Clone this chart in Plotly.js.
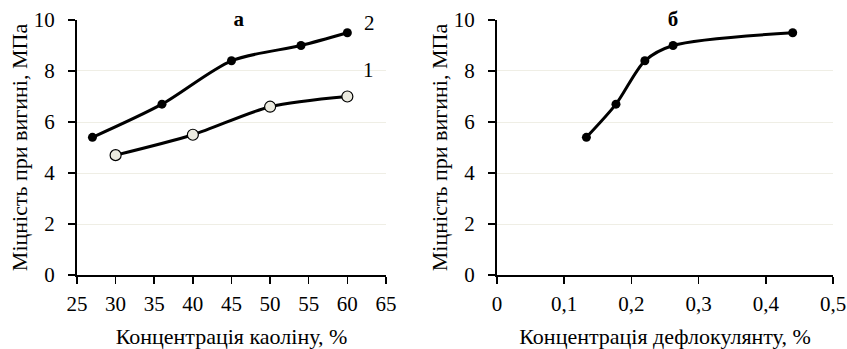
<!DOCTYPE html>
<html>
<head>
<meta charset="utf-8">
<script src="https://cdn.plot.ly/plotly-3.0.1.min.js"></script>
<style>html,body{margin:0;padding:0;background:#fff;}#chart{width:847px;height:349px;}</style>
</head>
<body>
<div id="chart"></div>
<script>
// Panel а: strength vs kaolin concentration
const kaolinX2 = [27, 36, 45, 54, 60];
const strength2 = [5.4, 6.7, 8.4, 9.0, 9.5];
const kaolinX1 = [30, 40, 50, 60];
const strength1 = [4.7, 5.5, 6.6, 7.0];
// Panel б: strength vs deflocculant concentration
const deflocX = [0.133, 0.177, 0.22, 0.262, 0.44];
const strengthB = [5.4, 6.7, 8.4, 9.0, 9.5];

const xTicksA = [25, 30, 35, 40, 45, 50, 55, 60, 65];
const xTicksB = [0, 0.1, 0.2, 0.3, 0.4, 0.5];
const xTickTextB = ['0', '0,1', '0,2', '0,3', '0,4', '0,5'];
const yTicks = [0, 2, 4, 6, 8, 10];

const FONT = '"Liberation Serif", "Times New Roman", serif';
const lineStyle = {color: '#000', width: 3, shape: 'spline', smoothing: 0.8};

const traces = [
  {x: kaolinX2, y: strength2, xaxis: 'x', yaxis: 'y', mode: 'lines+markers', line: lineStyle,
   marker: {size: 9, color: '#000'}, cliponaxis: false},
  {x: kaolinX1, y: strength1, xaxis: 'x', yaxis: 'y', mode: 'lines+markers', line: lineStyle,
   marker: {size: 11, color: '#ecebe0', line: {color: '#000', width: 1.2}}, cliponaxis: false},
  {x: deflocX, y: strengthB, xaxis: 'x2', yaxis: 'y2', mode: 'lines+markers', line: lineStyle,
   marker: {size: 9, color: '#000'}, cliponaxis: false}
];

const axisCommon = {
  showline: true, linecolor: '#000', linewidth: 2,
  ticks: 'outside', ticklen: 7, tickwidth: 1.5, tickcolor: '#000',
  tickfont: {family: FONT, size: 21, color: '#000'},
  zeroline: false
};
const titleFont = {family: FONT, size: 22, color: '#000'};

const layout = {
  width: 847, height: 349,
  margin: {l: 0, r: 0, t: 0, b: 0},
  paper_bgcolor: '#fff', plot_bgcolor: '#fff',
  showlegend: false,
  font: {family: FONT, color: '#000'},
  xaxis: Object.assign({}, axisCommon, {
    domain: [0.0909, 0.4557], range: [25, 65], tickvals: xTicksA, showgrid: false,
    anchor: 'y', ticklabelstandoff: 2,
    title: {text: 'Концентрація каоліну, %', font: titleFont, standoff: 14}
  }),
  yaxis: Object.assign({}, axisCommon, {
    domain: [0.212, 0.9427], range: [0, 10], tickvals: yTicks, showgrid: true,
    gridcolor: '#efeee5', gridwidth: 1, anchor: 'x', ticklabelstandoff: 9,
    title: {text: 'Міцність при вигині, МПа', font: titleFont, standoff: 0}
  }),
  xaxis2: Object.assign({}, axisCommon, {
    domain: [0.5868, 0.9835], range: [0, 0.5], tickvals: xTicksB, ticktext: xTickTextB, showgrid: false,
    anchor: 'y2', ticklabelstandoff: 2,
    title: {text: 'Концентрація дефлокулянту, %', font: titleFont, standoff: 14}
  }),
  yaxis2: Object.assign({}, axisCommon, {
    domain: [0.212, 0.9427], range: [0, 10], tickvals: yTicks, showgrid: true,
    gridcolor: '#efeee5', gridwidth: 1, anchor: 'x2', ticklabelstandoff: 9,
    title: {text: 'Міцність при вигині, МПа', font: titleFont, standoff: 0}
  }),
  annotations: [
    {x: 46, y: 10, xref: 'x', yref: 'y', text: '<b>а</b>', showarrow: false,
     font: {family: FONT, size: 21, color: '#000'}, bgcolor: '#fff', width: 46, yshift: 1},
    {x: 0.262, y: 10, xref: 'x2', yref: 'y2', text: '<b>б</b>', showarrow: false,
     font: {family: FONT, size: 21, color: '#000'}, bgcolor: '#fff', width: 48, yshift: 1},
    {x: 62.9, y: 9.9, xref: 'x', yref: 'y', text: '2', showarrow: false,
     font: {family: FONT, size: 21, color: '#000'}},
    {x: 62.7, y: 8.05, xref: 'x', yref: 'y', text: '1', showarrow: false,
     font: {family: FONT, size: 21, color: '#000'}}
  ]
};

Plotly.newPlot('chart', traces, layout, {displayModeBar: false, staticPlot: true});
</script>
</body>
</html>
